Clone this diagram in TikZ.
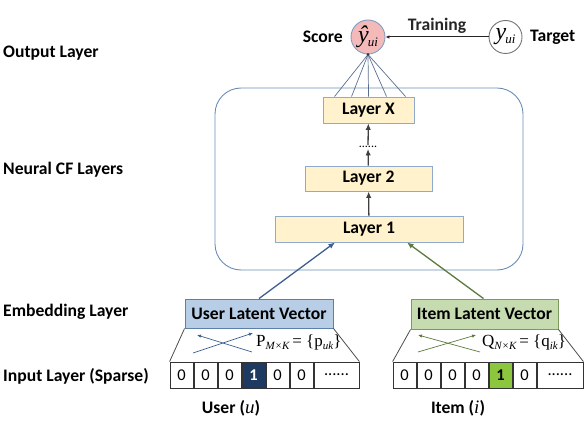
\documentclass[tikz,border=0pt]{standalone}
\usepackage{fontspec}
\setmainfont{Carlito}
\newfontfamily\tnr{Liberation Serif}
\usetikzlibrary{arrows.meta,positioning}
\definecolor{frame}{HTML}{6A8DB5}
\definecolor{layerfill}{HTML}{FFF2CC}
\definecolor{layerdraw}{HTML}{8FAACC}
\definecolor{scorefill}{HTML}{F4B9B9}
\definecolor{scoredraw}{HTML}{7E9EC4}
\definecolor{userfill}{HTML}{B8CEE6}
\definecolor{userdraw}{HTML}{5E7FA8}
\definecolor{itemfill}{HTML}{C6DBB0}
\definecolor{itemdraw}{HTML}{7C9A5E}
\definecolor{navy}{HTML}{1F3A60}
\definecolor{lime}{HTML}{8CC63E}
\definecolor{uarrow}{HTML}{3E5F8E}
\definecolor{iarrow}{HTML}{5B7A3C}
\definecolor{fan}{HTML}{5A6E90}
\begin{document}
\begin{tikzpicture}[x=1pt,y=-1pt,
  font=\fontsize{17.6}{20}\selectfont\bfseries,
  lbl/.style={anchor=west,inner sep=0},
  layerbox/.style={draw=layerdraw,fill=layerfill,line width=0.9pt,inner sep=0,minimum height=26pt},
  cell/.style={draw=black!80,line width=0.8pt,minimum width=23.2pt,minimum height=26pt,inner sep=0,font=\fontsize{16.5}{18}\selectfont\mdseries},
  tip/.style={-{Latex[length=6.5pt,width=5.5pt]}},
  small/.style={-{Latex[length=4pt,width=3.5pt]}},
]
\useasboundingbox (0,0) rectangle (585,430);
\newcommand{\subx}[1]{\raisebox{-4pt}{\fontsize{13}{13}\selectfont\itshape #1}}
\newcommand{\subs}[1]{\raisebox{-3.5pt}{\fontsize{11}{11}\selectfont\itshape #1}}
% left labels
\node[lbl] (lo) at (3,53) {Output Layer};
\node[lbl] (ln) at (3,170) {Neural CF Layers};
\node[lbl] (le) at (3,312) {Embedding Layer};
\node[lbl] (li) at (3,376) {Input Layer (Sparse)};
% frame
\draw[frame,line width=0.9pt,rounded corners=26pt] (215,88) rectangle (523,270);
% layers
\node[layerbox,minimum width=91pt] (lx) at (368.5,110) {Layer X};
\node[font=\fontsize{12}{12}\selectfont\mdseries,inner sep=1pt] (dots) at (368,147) {......};
\node[layerbox,minimum width=127pt,minimum height=25pt] (l2) at (368.5,178.5) {Layer 2};
\node[layerbox,minimum width=188pt] (l1) at (369,229) {Layer 1};
\draw[tip,black!75,line width=1.3pt] (l1) -- (l2);
\draw[tip,black!75,line width=1.3pt] (l2) -- (dots);
\draw[tip,black!75,line width=1.3pt] (dots) -- (lx);
% output
\node[circle,draw=scoredraw,fill=scorefill,line width=0.9pt,minimum size=34pt,inner sep=0] (score) at (368,37)
  {\tnr\mdseries\itshape\fontsize{24}{24}\selectfont ŷ\kern-1pt\subx{ui}};
\node[circle,draw=black!55,fill=white,line width=0.9pt,minimum size=33pt,inner sep=0] (target) at (505.5,37)
  {\tnr\mdseries\itshape\fontsize{24}{24}\selectfont y\kern-1pt\subx{ui}};
\node[anchor=east,inner sep=0] (scorel) at (343,37) {Score};
\node[anchor=west,inner sep=0] (targetl) at (530,37) {Target};
\draw[small,black!85,line width=1pt] (target) -- node[above=3pt,inner sep=0] (train) {Training} (score);
\foreach \dx in {12,29,46,64,83}
  \draw[fan,line width=0.7pt] ([xshift=\dx pt]lx.north west) -- (score.south);
\fill[navy] (score.south) circle (1.5pt);
% user side
\node[draw=userdraw,fill=userfill,line width=0.9pt,minimum width=148pt,minimum height=29pt,inner sep=0] (ub) at (259,313.5) {User Latent Vector};
\node[cell] (u1) at (181.6,375) {0};
\node[cell,right=0pt of u1] (u2) {0};
\node[cell,right=0pt of u2] (u3) {0};
\node[cell,right=0pt of u3,fill=navy,text=white,font=\fontsize{16.5}{18}\selectfont\bfseries] (u4) {1};
\node[cell,right=0pt of u4] (u5) {0};
\node[cell,right=0pt of u5] (u6) {0};
\node[cell,right=0pt of u6,minimum width=45pt] (u7) {......};
\draw[black!70,line width=0.8pt] (ub.south west) -- (u1.north west);
\draw[black!70,line width=0.8pt] (ub.south east) -- (u7.north east);
\coordinate (ua1) at (193,353); \coordinate (ua2) at (253,333);
\coordinate (ub1) at (252,352); \coordinate (ub2) at (197,335);
\draw[small,uarrow,line width=0.7pt] (ua1) -- (ua2);
\draw[small,uarrow,line width=0.7pt] (ub1) -- (ub2);
\node[anchor=west,inner sep=0,font=\tnr\fontsize{17}{18}\selectfont] (pl) at (256,342) {P\subs{M×K}\,= \{p\subs{uk}\}};
\node[inner sep=0] (ulab) at (231,408) {User ({\tnr\mdseries\itshape\fontsize{19}{19}\selectfont u\/})};
% item side
\node[draw=itemdraw,fill=itemfill,line width=0.9pt,minimum width=147pt,minimum height=30pt,inner sep=0] (ib) at (484.5,314) {Item Latent Vector};
\node[cell] (i1) at (404.6,375) {0};
\node[cell,right=0pt of i1] (i2) {0};
\node[cell,right=0pt of i2] (i3) {0};
\node[cell,right=0pt of i3] (i4) {0};
\node[cell,right=0pt of i4,fill=lime,font=\fontsize{16.5}{18}\selectfont\bfseries] (i5) {1};
\node[cell,right=0pt of i5] (i6) {0};
\node[cell,right=0pt of i6,minimum width=46pt] (i7) {......};
\draw[black!70,line width=0.8pt] (ib.south west) -- (i1.north west);
\draw[black!70,line width=0.8pt] (ib.south east) -- (i7.north east);
\coordinate (ia1) at (418,352); \coordinate (ia2) at (476,335);
\coordinate (ib1) at (480,352); \coordinate (ib2) at (418,335);
\draw[small,iarrow,line width=0.7pt] (ia1) -- (ia2);
\draw[small,iarrow,line width=0.7pt] (ib1) -- (ib2);
\node[anchor=west,inner sep=0,font=\tnr\fontsize{17}{18}\selectfont] (ql) at (482,342) {Q\subs{N×K}\,= \{q\subs{ik}\}};
\node[inner sep=0] (ilab) at (458,408) {Item ({\tnr\mdseries\itshape\fontsize{19}{19}\selectfont i\/})};
% arrows to layer 1
\draw[tip,uarrow,line width=1.3pt] (ub.north) -- ([xshift=-34pt]l1.south);
\draw[tip,iarrow,line width=1.3pt] ([xshift=-1pt]ib.north) -- ([xshift=38pt]l1.south);
\end{tikzpicture}
\end{document}
